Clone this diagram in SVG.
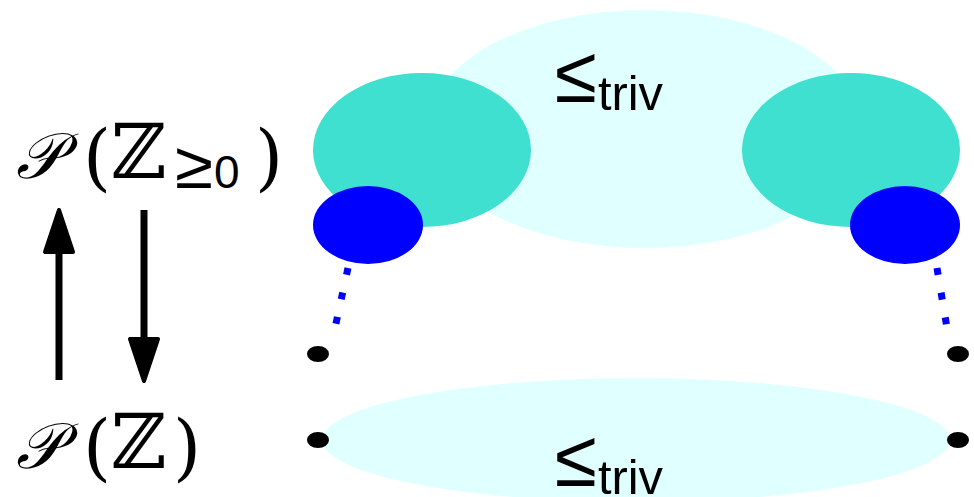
<svg xmlns="http://www.w3.org/2000/svg" width="974" height="497" viewBox="0 0 974 497">
<style>
.light{fill:#E0FFFF}
.teal{fill:#40E0D0}
.blue{fill:#0000FF}
.dot{fill:#000}
.math{font-family:"DejaVu Serif","Liberation Serif",serif;fill:#000}
.sans{font-family:"Liberation Sans","DejaVu Sans",sans-serif;fill:#000}
.sym{font-family:"DejaVu Sans ExtraLight","DejaVu Sans",sans-serif;font-weight:200;fill:#000}
.dash{stroke:#0000FF;stroke-width:7;stroke-dasharray:7 18;fill:none}
.arr{fill:#000;stroke:#000;stroke-width:4;stroke-linejoin:round}
</style>
<rect width="974" height="497" fill="#fff"/>
<g id="top-cloud">
<ellipse class="light" cx="645" cy="129" rx="218" ry="119"/>
<text x="555" y="102" class="sym" font-size="80" textLength="42" lengthAdjust="spacingAndGlyphs">≤</text>
<text x="598" y="110" class="sans" font-size="48" textLength="65" lengthAdjust="spacingAndGlyphs">triv</text>
</g>
<g id="left-teal"><ellipse class="teal" cx="422" cy="150" rx="109" ry="77"/></g>
<g id="right-teal"><ellipse class="teal" cx="851" cy="150" rx="109" ry="77"/></g>
<g id="left-blue"><ellipse class="blue" cx="368" cy="225" rx="55" ry="39"/></g>
<g id="right-blue"><ellipse class="blue" cx="905" cy="225" rx="55" ry="39"/></g>
<g id="bottom-cloud">
<ellipse class="light" cx="636" cy="440" rx="314" ry="62"/>
<text x="555" y="486" class="sym" font-size="80" textLength="42" lengthAdjust="spacingAndGlyphs">≤</text>
<text x="598" y="494" class="sans" font-size="48" textLength="65" lengthAdjust="spacingAndGlyphs">triv</text>
</g>
<g id="dots">
<ellipse class="dot" cx="318" cy="354" rx="11" ry="8"/>
<ellipse class="dot" cx="318" cy="440" rx="11" ry="8"/>
<ellipse class="dot" cx="958" cy="354" rx="11" ry="8"/>
<ellipse class="dot" cx="958" cy="440" rx="11" ry="8"/>
</g>
<g id="connectors">
<line class="dash" x1="348" y1="268" x2="335" y2="328"/>
<line class="dash" x1="937" y1="268" x2="947" y2="328"/>
<line x1="59" y1="380" x2="59" y2="245" stroke="#000" stroke-width="7"/>
<polygon class="arr" points="59,210 45,252 73,252"/>
<line x1="144" y1="210" x2="144" y2="345" stroke="#000" stroke-width="7"/>
<polygon class="arr" points="130,339 158,339 144,381"/>
</g>
<g id="label-top">
<text class="math" y="178" font-size="64"><tspan x="16" font-style="italic">𝒫</tspan><tspan x="83" font-size="72" dy="4">(</tspan><tspan x="111" dy="-4" font-size="76">ℤ</tspan><tspan x="175" y="188" class="sym" font-size="66" textLength="38" lengthAdjust="spacingAndGlyphs">≥</tspan><tspan x="214" y="188" class="sans" font-size="46">0</tspan><tspan x="255" y="182" font-size="72">)</tspan></text>
</g>
<g id="label-bottom">
<text class="math" y="468" font-size="64"><tspan x="16" font-style="italic">𝒫</tspan><tspan x="83" font-size="72" dy="4">(</tspan><tspan x="111" dy="-4" font-size="76">ℤ</tspan><tspan x="173" y="472" font-size="72">)</tspan></text>
</g>
</svg>
